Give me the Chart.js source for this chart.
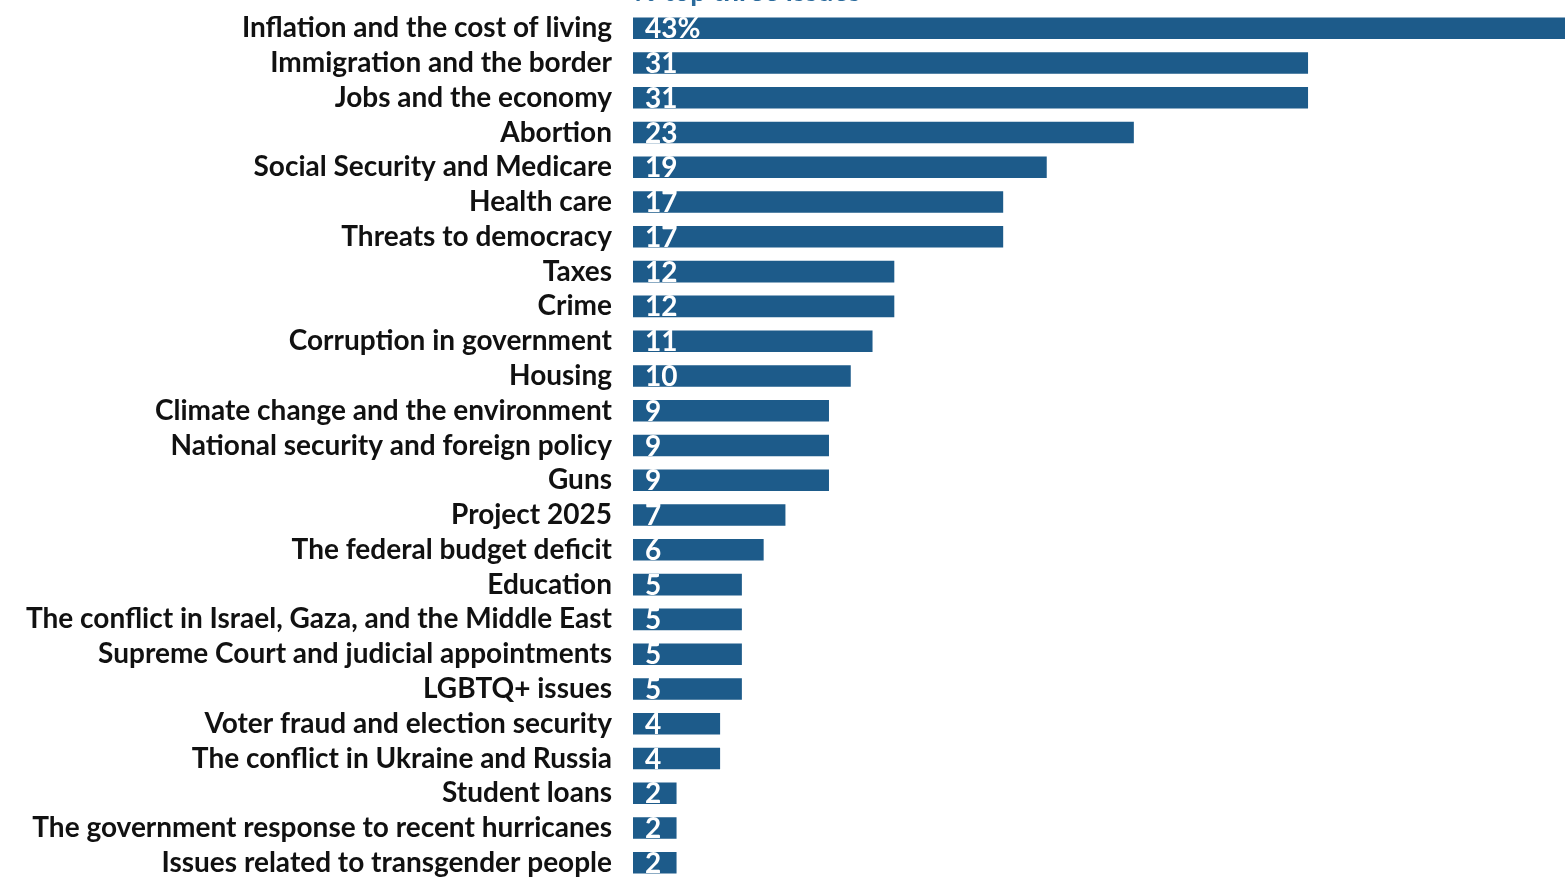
<!DOCTYPE html>
<html>
<head>
<meta charset="utf-8">
<script src="https://cdn.jsdelivr.net/npm/chart.js@4/dist/chart.umd.min.js"></script>
<style>
  html, body { margin: 0; padding: 0; background: #ffffff; overflow: hidden; width: 1565px; height: 878px; }
  #wrap { position: relative; width: 1565px; height: 878px; overflow: hidden; }
  #subtitle { position: absolute; left: 634px; top: -24px; font: 700 28px/28px Lato, sans-serif; color: #2a6a9c; white-space: nowrap; z-index: 2; }
  #c { position: absolute; left: 0; top: -27px; }
</style>
</head>
<body>
<div id="wrap">
  <canvas id="c" width="1565" height="945"></canvas>
  <div id="subtitle">% top three issues</div>
</div>
<script>
const categories = [
  "Inflation and the cost of living",
  "Immigration and the border",
  "Jobs and the economy",
  "Abortion",
  "Social Security and Medicare",
  "Health care",
  "Threats to democracy",
  "Taxes",
  "Crime",
  "Corruption in government",
  "Housing",
  "Climate change and the environment",
  "National security and foreign policy",
  "Guns",
  "Project 2025",
  "The federal budget deficit",
  "Education",
  "The conflict in Israel, Gaza, and the Middle East",
  "Supreme Court and judicial appointments",
  "LGBTQ+ issues",
  "Voter fraud and election security",
  "The conflict in Ukraine and Russia",
  "Student loans",
  "The government response to recent hurricanes",
  "Issues related to transgender people"
];
const values = [43, 31, 31, 23, 19, 17, 17, 12, 12, 11, 10, 9, 9, 9, 7, 6, 5, 5, 5, 5, 4, 4, 2, 2, 2];
const valueLabels = values.map((v, i) => i === 0 ? v + "%" : String(v));

const barColor = "#1d5b8a";

const valueLabelPlugin = {
  id: "valueLabels",
  afterDatasetsDraw(chart) {
    const ctx = chart.ctx;
    const meta = chart.getDatasetMeta(0);
    ctx.save();
    ctx.fillStyle = "#ffffff";
    ctx.font = "700 28px Lato, sans-serif";
    ctx.textAlign = "left";
    ctx.textBaseline = "middle";
    meta.data.forEach((bar, i) => {
      ctx.fillText(valueLabels[i], bar.base + 12, bar.y + 1);
    });
    ctx.restore();
  }
};

new Chart(document.getElementById("c"), {
  type: "bar",
  data: {
    labels: categories,
    datasets: [{
      data: values,
      backgroundColor: barColor,
      borderWidth: 0,
      barPercentage: 0.62,
      categoryPercentage: 1.0
    }]
  },
  options: {
    indexAxis: "y",
    responsive: false,
    animation: false,
    layout: { padding: 0 },
    plugins: { legend: { display: false }, tooltip: { enabled: false }, title: { display: false } },
    scales: {
      x: { display: false, min: 0, max: 42.8 },
      y: {
        grid: { display: false, drawTicks: false },
        border: { display: false },
        ticks: {
          color: "#111111",
          font: { family: "Lato, sans-serif", weight: "700", size: 28, lineHeight: 1.2 },
          padding: 21,
          autoSkip: false
        },
        afterFit(scale) { scale.width = 633; }
      }
    }
  },
  plugins: [valueLabelPlugin]
});
</script>
</body>
</html>
